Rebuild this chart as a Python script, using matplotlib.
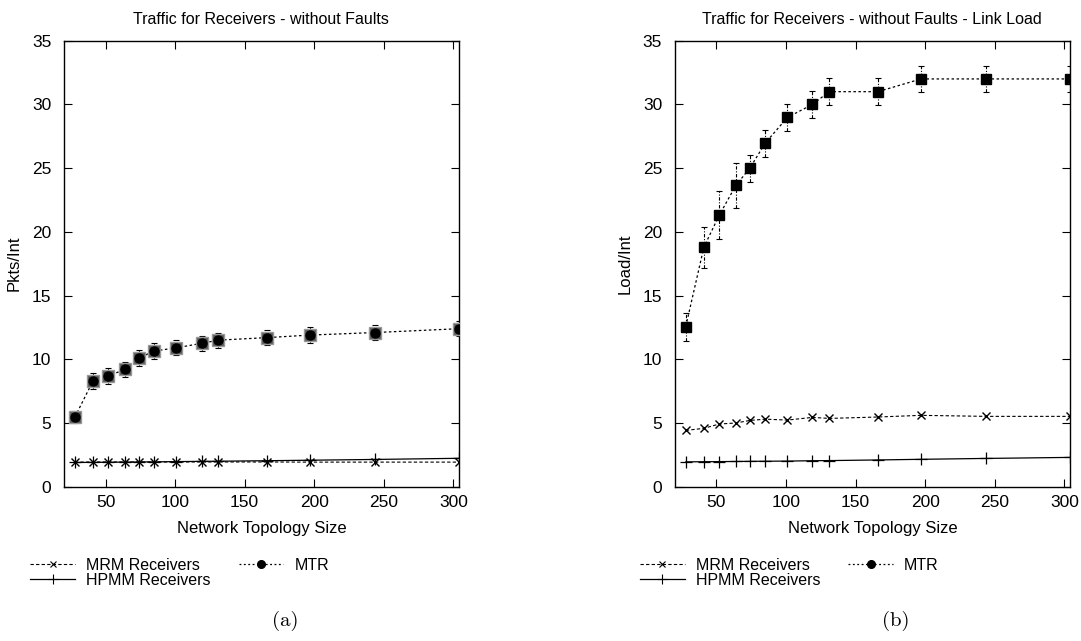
import numpy as np
import matplotlib.pyplot as plt

plt.rcParams['font.family'] = ['Liberation Sans', 'DejaVu Sans']

# network sizes (same for both panels)
sizes = [28, 41, 52, 64, 74, 85, 101, 119, 131, 166, 197, 244, 304]

# (a) packets per interval
mtr_a = [5.47, 8.3, 8.7, 9.2, 10.1, 10.65, 10.9, 11.25, 11.5, 11.7, 11.9, 12.1, 12.4]
mtr_a_err = [0.45, 0.6, 0.65, 0.6, 0.6, 0.6, 0.6, 0.6, 0.6, 0.6, 0.6, 0.6, 0.6]
mrm_a = [1.93, 1.94, 1.94, 1.94, 1.94, 1.94, 1.94, 1.94, 1.94, 1.94, 1.93, 1.93, 1.93]
hpmm_a = [1.9, 1.91, 1.92, 1.93, 1.94, 1.95, 1.97, 1.99, 2.0, 2.04, 2.08, 2.14, 2.23]

# (b) link load
mtr_b = [12.57, 18.8, 21.3, 23.65, 25.0, 26.95, 28.98, 30.0, 31.0, 31.0, 32.0, 32.0, 32.0]
mtr_b_err = [1.1, 1.6, 1.9, 1.75, 1.05, 1.05, 1.05, 1.05, 1.05, 1.05, 1.05, 1.05, 1.05]
mrm_b = [4.42, 4.58, 4.92, 5.0, 5.2, 5.3, 5.23, 5.44, 5.36, 5.47, 5.6, 5.52, 5.52]
hpmm_b = [1.95, 1.96, 1.97, 1.98, 1.99, 2.0, 2.01, 2.04, 2.05, 2.1, 2.15, 2.22, 2.3]

titles = ["Traffic for Receivers - without Faults",
          "Traffic for Receivers - without Faults - Link Load"]
ylabels = ["Pkts/Int", "Load/Int"]
captions = ["(a)", "(b)"]

fig = plt.figure(figsize=(10.81, 6.41), dpi=100)
ax_a = fig.add_axes([0.059, 0.2407, 0.3656, 0.6958])
ax_b = fig.add_axes([0.6241, 0.2407, 0.3657, 0.6958])

for i, ax in enumerate([ax_a, ax_b]):
    if i == 0:
        mtr, err, mrm, hpmm = mtr_a, mtr_a_err, mrm_a, hpmm_a
    else:
        mtr, err, mrm, hpmm = mtr_b, mtr_b_err, mrm_b, hpmm_b

    ax.plot(sizes, mrm, color='black', lw=0.8, ls=(0, (3, 2)),
            marker='x', ms=6, mew=1.0)
    ax.plot(sizes, hpmm, color='black', lw=0.9, ls='-',
            marker='+', ms=8, mew=0.9)

    eb = ax.errorbar(sizes, mtr, yerr=err, fmt='none', ecolor='black',
                     elinewidth=0.8, capsize=2.5, capthick=0.8)
    if i == 0:
        eb[2][0].set_linestyle(':')
        ax.plot(sizes, mtr, color='black', lw=0.9, ls=(0, (2, 2)),
                marker='s', ms=9, mfc='#555555', mec='#999999', zorder=3)
        ax.plot(sizes, mtr, ls='none', marker='o', ms=6.5,
                mfc='black', mec='black', zorder=4)
    else:
        eb[2][0].set_linestyle((0, (3, 1.5, 1, 1.5)))
        ax.plot(sizes, mtr, color='black', lw=0.9, ls=(0, (2, 2)),
                marker='s', ms=7.5, mfc='black', mec='black', zorder=3)

    ax.set_xlim(20, 304)
    ax.set_ylim(0, 35)
    ax.set_xticks([50, 100, 150, 200, 250, 300])
    ax.set_yticks([0, 5, 10, 15, 20, 25, 30, 35])
    ax.tick_params(direction='in', top=True, right=True, length=6,
                   width=0.8, labelsize=12.5)
    ax.tick_params(axis='y', pad=9)
    ax.tick_params(axis='x', pad=6)
    for s in ax.spines.values():
        s.set_linewidth(1.0)
    ax.set_title(titles[i], fontsize=11.5, pad=12)
    ax.set_xlabel('Network Topology Size', fontsize=12, labelpad=8)
    ax.set_ylabel(ylabels[i], fontsize=12, labelpad=7)

    h_mrm = plt.Line2D([], [], color='black', lw=0.8, ls=(0, (3, 2)),
                       marker='x', ms=5, mew=0.8)
    h_hpmm = plt.Line2D([], [], color='black', lw=0.9, ls='-',
                        marker='+', ms=7, mew=0.8)
    h_mtr = plt.Line2D([], [], color='black', lw=0.9, ls=(0, (1.5, 2)),
                       marker='o', ms=5.5)
    left = 0.0205 if i == 0 else 0.5845
    ax.legend([h_mrm, h_hpmm, h_mtr],
              ['MRM Receivers', 'HPMM Receivers', 'MTR'],
              loc='upper left', bbox_to_anchor=(left, 0.142),
              bbox_transform=fig.transFigure, ncol=2, frameon=False,
              fontsize=11.5, borderpad=0, labelspacing=0.0,
              handlelength=2.8, handletextpad=0.7, columnspacing=1.75,
              numpoints=1)

    cx = 0.2637 if i == 0 else 0.829
    fig.text(cx, 0.032, captions[i], ha='center', va='center',
             fontsize=15, family=['cmr10', 'DejaVu Serif'])

fig.savefig('out.png', dpi=100)
